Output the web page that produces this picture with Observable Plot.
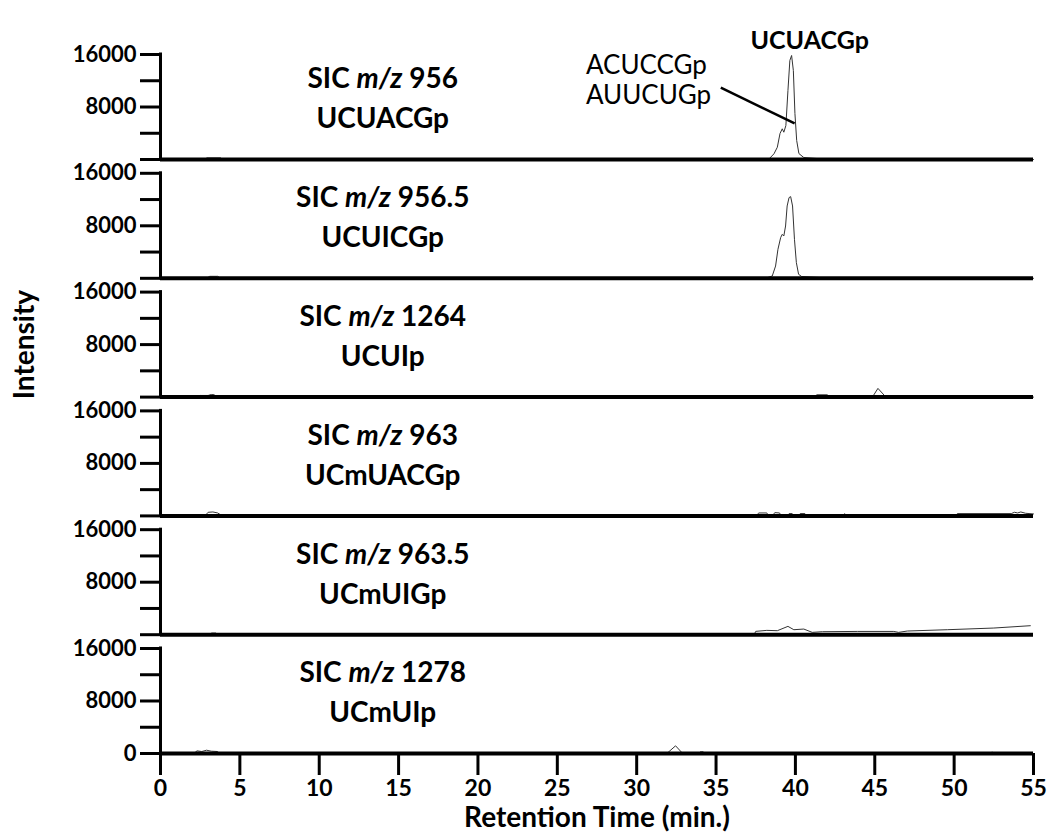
<!DOCTYPE html>
<html><head><meta charset="utf-8">
<script src="https://cdn.jsdelivr.net/npm/d3@7"></script>
<script src="https://cdn.jsdelivr.net/npm/@observablehq/plot@0.6"></script>
<style>body{margin:0;background:#fff} svg{display:block}</style>
</head><body><div id="chart"></div>
<script>
// m/z of each selected-ion chromatogram (panel order, top to bottom)
const panels = ["956", "956.5", "1264", "963", "963.5", "1278"];
const sequences = ["UCUACGp", "UCUICGp", "UCUIp", "UCmUACGp", "UCmUIGp", "UCmUIp"];

// traces: [retention time (min), intensity]
const trace956 = [[0,0],[2.8,0],[2.9,250],[3.8,250],[3.9,0],[38.3,0],[38.65,870],[38.86,1870],[39.03,3960],[39.17,4680],[39.27,4160],[39.40,5180],[39.53,10510],[39.65,15090],[39.76,15850],[39.87,13560],[39.97,7010],[40.08,2900],[40.22,910],[40.53,300],[41.37,150],[41.5,0],[55,0]];
const trace956_5 = [[0,0],[2.9,0],[3.1,300],[3.6,300],[3.8,0],[38.1,0],[38.54,350],[38.75,1870],[38.9,4420],[39.07,6200],[39.17,6700],[39.27,6450],[39.38,7970],[39.48,11020],[39.6,12300],[39.7,12450],[39.82,11020],[39.94,5940],[40.06,2390],[40.2,610],[40.4,260],[41.7,100],[41.8,0],[55,0]];
const trace1264 = [[0,0],[2.2,0],[2.5,250],[3.0,250],[3.2,400],[3.4,350],[3.5,0],[41.2,0],[41.35,350],[42.0,350],[42.2,0],[44.85,0],[45.2,1330],[45.7,0],[55,0]];
const trace963 = [[0,0],[2.8,0],[3.0,550],[3.3,600],[3.6,450],[3.9,0],[37.5,0],[37.7,450],[38.2,450],[38.3,0],[38.55,0],[38.7,500],[39.0,450],[39.1,0],[39.5,0],[39.6,350],[39.8,350],[39.9,0],[40.2,0],[40.3,350],[40.6,350],[40.7,0],[43.0,0],[43.1,350],[43.2,0],[50.1,0],[50.2,350],[53.6,350],[53.8,550],[54.0,450],[54.2,600],[54.5,400],[55,300]];
const trace963_5 = [[0,0],[3.1,0],[3.2,250],[3.5,250],[3.6,0],[37.4,0],[37.5,510],[38.2,660],[38.86,610],[39.53,1270],[39.9,760],[40.53,860],[41.06,355],[41.7,457],[43.9,500],[46.2,500],[46.5,355],[47.05,560],[49.57,760],[52.5,1016],[54.8,1370]];
const trace1278 = [[0,0],[2.1,0],[2.3,400],[2.6,300],[2.9,500],[3.2,350],[3.6,300],[3.7,0],[31.9,0],[32.45,1170],[32.9,0],[33.9,0],[34.0,250],[34.2,250],[34.3,0],[52.3,0],[52.4,250],[52.5,0],[55,0]];
const traces = [trace956, trace956_5, trace1264, trace963, trace963_5, trace1278];

const xTicks = [0,5,10,15,20,25,30,35,40,45,50,55];
const yTicks = [0,4000,8000,12000,16000];
const yTickLabels = [8000,16000];

const peakLabel = "UCUACGp";
const coeluting = ["ACUCCGp", "AUUCUGp"];

const rows = [];
traces.forEach((tr, i) => tr.forEach(([t, v]) => rows.push({panel: panels[i], t, v})));
const labelRows = panels.map((p, i) => ({panel: p, line1: `SIC m/z ${p}`, line2: sequences[i]}));
const first = panels[0], third = panels[2], last = panels[panels.length - 1];

const chart = Plot.plot({
  width: 1048, height: 838,
  marginLeft: 160, marginRight: 15, marginTop: 54, marginBottom: 85,
  style: {fontFamily: "Lato, sans-serif", fontWeight: "bold", fontSize: "22px", color: "#000", background: "#fff"},
  x: {domain: [0, 55]},
  y: {domain: [0, 16000]},
  fy: {domain: panels, paddingInner: 0.116, paddingOuter: 0, axis: null, round: false},
  marks: [
    Plot.line(rows, {x: "t", y: "v", fy: "panel", stroke: "#333", strokeWidth: 1}),
    Plot.ruleY([0], {stroke: "#000", strokeWidth: 4}),
    Plot.ruleX([0], {y1: 0, y2: 16000, stroke: "#000", strokeWidth: 3, strokeLinecap: "square"}),
    Plot.axisY({ticks: yTicks, tickSize: 20, tickPadding: 4, strokeWidth: 3, fontSize: 22, label: null,
      tickFormat: d => yTickLabels.includes(d) ? String(d) : ""}),
    Plot.axisX({ticks: xTicks, tickSize: 22, tickPadding: 4, strokeWidth: 3, fontSize: 23, label: null, tickFormat: d => String(d)}),
    Plot.text([last], {fy: d => d, x: 0, y: 0, text: () => "0", dx: -24, textAnchor: "end", fontSize: 22}),
    // panel labels
    Plot.text(labelRows, {fy: "panel", x: 14, frameAnchor: "top", lineAnchor: "top", dy: 14, text: "line1", fontSize: 28, fontWeight: "bold"}),
    Plot.text(labelRows, {fy: "panel", x: 14, frameAnchor: "top", lineAnchor: "top", dy: 54, text: "line2", fontSize: 28, fontWeight: "bold"}),
    // annotations
    Plot.text([first], {fy: d => d, x: 40.9, frameAnchor: "top", lineAnchor: "top", dy: -23, text: () => peakLabel, fontSize: 25, fontWeight: "bold"}),
    Plot.text([first], {fy: d => d, x: 26.8, frameAnchor: "top", lineAnchor: "top", dy: 1, text: () => coeluting[0], textAnchor: "start", fontSize: 26, fontWeight: "normal"}),
    Plot.text([first], {fy: d => d, x: 26.8, frameAnchor: "top", lineAnchor: "top", dy: 31, text: () => coeluting[1], textAnchor: "start", fontSize: 26, fontWeight: "normal"}),
    Plot.link([first], {fy: d => d, x1: 35.3, y1: 10940, x2: 39.95, y2: 5500, stroke: "#000", strokeWidth: 2.5}),
    // axis titles
    Plot.text([last], {fy: d => d, x: 27.5, frameAnchor: "bottom", lineAnchor: "bottom", dy: 73, text: () => "Retention Time (min.)", fontSize: 28, fontWeight: "bold"}),
    Plot.text([third], {fy: d => d, frameAnchor: "left", textAnchor: "middle", lineAnchor: "middle", dx: -135, rotate: -90, text: () => "Intensity", fontSize: 28, fontWeight: "bold"})
  ]
});

// italicize "m/z" within the SIC labels
chart.querySelectorAll("text").forEach(el => {
  const s = el.textContent;
  if (s.startsWith("SIC m/z ")) {
    const num = s.slice(8);
    el.textContent = "";
    const ns = "http://www.w3.org/2000/svg";
    const a = document.createElementNS(ns, "tspan"); a.textContent = "SIC ";
    const b = document.createElementNS(ns, "tspan"); b.textContent = "m/z"; b.setAttribute("font-style", "italic");
    const c = document.createElementNS(ns, "tspan"); c.textContent = " " + num;
    el.append(a, b, c);
  }
});
document.getElementById("chart").appendChild(chart);
</script>
</body></html>
